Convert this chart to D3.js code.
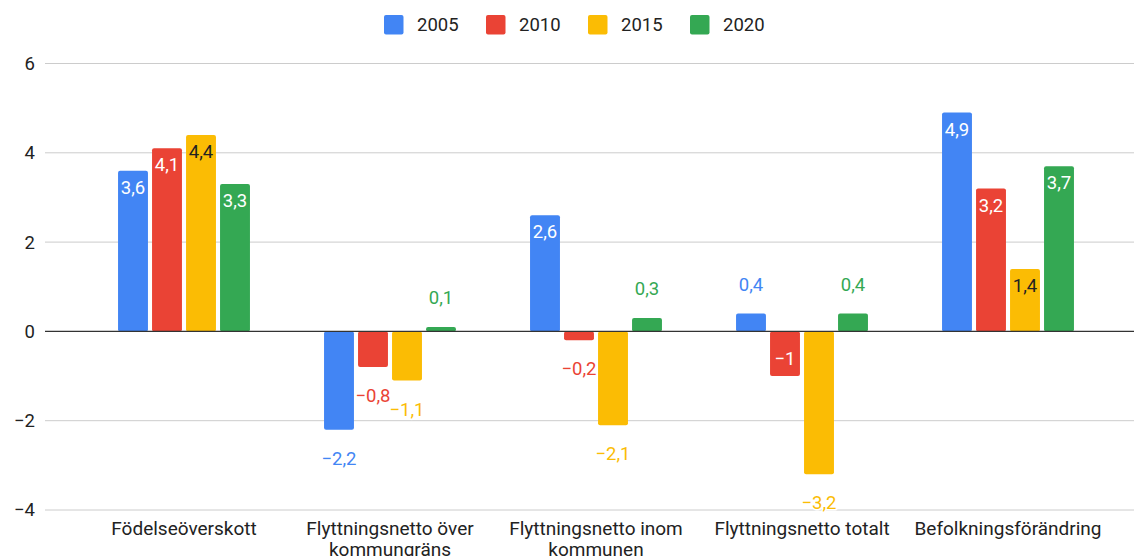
<!DOCTYPE html>
<html>
<head>
<meta charset="utf-8">
<script src="https://cdn.jsdelivr.net/npm/d3@7"></script>
<style>
  html, body { margin: 0; padding: 0; background: #fff; }
  svg { display: block; font-family: Roboto, "Noto Sans", sans-serif; }
</style>
</head>
<body>
<svg id="chart" width="1134" height="556"></svg>
<script>
const categories = ["Födelseöverskott", "Flyttningsnetto över kommungräns", "Flyttningsnetto inom kommunen", "Flyttningsnetto totalt", "Befolkningsförändring"];
const seriesNames = ["2005", "2010", "2015", "2020"];
const values2005 = [3.6, -2.2, 2.6, 0.4, 4.9];
const values2010 = [4.1, -0.8, -0.2, -1, 3.2];
const values2015 = [4.4, -1.1, -2.1, -3.2, 1.4];
const values2020 = [3.3, 0.1, 0.3, 0.4, 3.7];
const yTicks = [-4, -2, 0, 2, 4, 6];
const colors = ["#4285F4", "#EA4335", "#FBBC04", "#34A853"];
const insideTextColors = ["#ffffff", "#ffffff", "#222222", "#ffffff"];

const seriesValues = [values2005, values2010, values2015, values2020];
const locale = d3.formatLocale({decimal: ",", thousands: "\u00a0", grouping: [3], currency: ["", " kr"], minus: "\u2212"});
const fmt = locale.format("~g");

const svg = d3.select("#chart");
const gridLeft = 45, gridRight = 1134;
const y = d3.scaleLinear().domain([-4, 6]).range([510, 63.5]);
const x = d3.scaleBand().domain(categories).range([81, 1111]).padding(0);
const xi = d3.scaleBand().domain(seriesNames).range([-68, 68]).paddingInner(0.12).paddingOuter(0.06);

// gridlines
svg.append("g").selectAll("line").data(yTicks.filter(t => t !== 0)).join("line")
  .attr("x1", gridLeft).attr("x2", gridRight)
  .attr("y1", d => y(d)).attr("y2", d => y(d))
  .attr("stroke", "#cccccc").attr("stroke-width", 1);

// y labels
const yAxis = d3.axisLeft(y).tickValues(yTicks).tickFormat(fmt).tickSize(0).tickPadding(0);
const yg = svg.append("g").attr("transform", "translate(35,0)").call(yAxis);
yg.select(".domain").remove();
yg.selectAll("text").attr("font-size", 18.5).attr("fill", "#222").attr("font-family", "Roboto");

// bars
const rows = [];
categories.forEach((c, ci) => {
  seriesNames.forEach((s, si) => {
    rows.push({cat: c, s, si, v: seriesValues[si][ci]});
  });
});

const groups = svg.append("g");
groups.selectAll("rect").data(rows).join("rect")
  .attr("x", d => x(d.cat) + x.bandwidth() / 2 + xi(d.s))
  .attr("width", xi.bandwidth())
  .attr("y", d => Math.min(y(d.v), y(0)))
  .attr("height", d => Math.abs(y(d.v) - y(0)))
  .attr("rx", 2)
  .attr("fill", d => colors[d.si]);

// zero line
svg.append("line")
  .attr("x1", gridLeft).attr("x2", gridRight)
  .attr("y1", y(0)).attr("y2", y(0))
  .attr("stroke", "#333333").attr("stroke-width", 1.2);

// value labels
const labels = svg.append("g").selectAll("text").data(rows).join("text")
  .attr("x", d => x(d.cat) + x.bandwidth() / 2 + xi(d.s) + xi.bandwidth() / 2)
  .attr("text-anchor", "middle")
  .attr("dominant-baseline", "central")
  .attr("font-size", 18.5)
  .text(d => fmt(d.v));

labels.each(function(d) {
  const t = d3.select(this);
  const w = this.getComputedTextLength();
  const h = Math.abs(y(d.v) - y(0));
  const inside = w <= xi.bandwidth() - 1 && h >= 36;
  const dir = d.v >= 0 ? 1 : -1;
  if (inside) {
    t.attr("y", y(d.v) + dir * 17).attr("fill", insideTextColors[d.si]);
  } else {
    t.attr("y", y(d.v) - dir * 29).attr("fill", colors[d.si])
      .attr("stroke", "#fff").attr("stroke-width", 3).attr("paint-order", "stroke")
      .attr("stroke-linejoin", "round");
  }
});

// x labels with wrapping
const maxW = 198;
const xl = svg.append("g").selectAll("text").data(categories).join("text")
  .attr("x", d => x(d) + x.bandwidth() / 2)
  .attr("y", 528)
  .attr("text-anchor", "middle")
  .attr("dominant-baseline", "central")
  .attr("font-size", 19)
  .attr("fill", "#222");
xl.each(function(d) {
  const t = d3.select(this);
  const words = d.split(" ");
  let line = [];
  let lines = [];
  const tmp = t.append("tspan");
  words.forEach(w => {
    const test = line.concat([w]).join(" ");
    tmp.text(test);
    if (tmp.node().getComputedTextLength() > maxW && line.length) {
      lines.push(line.join(" "));
      line = [w];
    } else {
      line.push(w);
    }
  });
  lines.push(line.join(" "));
  tmp.remove();
  lines.forEach((l, i) => {
    t.append("tspan").attr("x", x(d) + x.bandwidth() / 2).attr("dy", i === 0 ? 0 : 21).text(l);
  });
});

// legend
const legendX = 384, legendPitch = 102;
const lg = svg.append("g").selectAll("g").data(seriesNames).join("g")
  .attr("transform", (d, i) => `translate(${legendX + i * legendPitch},15)`);
lg.append("rect").attr("width", 19.5).attr("height", 19.5).attr("rx", 2).attr("fill", (d, i) => colors[i]);
lg.append("text").attr("x", 33).attr("y", 10).attr("dominant-baseline", "central")
  .attr("font-size", 18.5).attr("fill", "#222").text(d => d);
</script>
</body>
</html>
